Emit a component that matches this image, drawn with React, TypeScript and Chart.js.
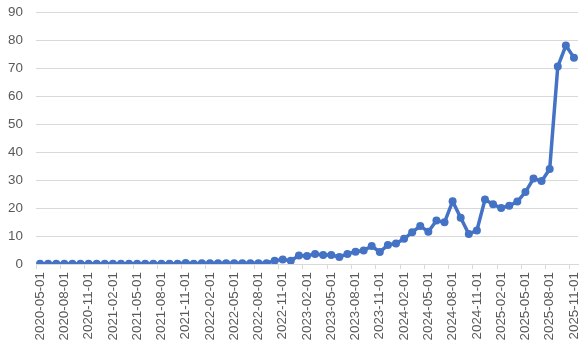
import React, { useEffect, useRef } from "react";
import { Chart, registerables } from "chart.js";

Chart.register(...registerables);

const categories: string[] = [
  "2020-05-01", "2020-06-01", "2020-07-01", "2020-08-01", "2020-09-01", "2020-10-01",
  "2020-11-01", "2020-12-01", "2021-01-01", "2021-02-01", "2021-03-01", "2021-04-01",
  "2021-05-01", "2021-06-01", "2021-07-01", "2021-08-01", "2021-09-01", "2021-10-01",
  "2021-11-01", "2021-12-01", "2022-01-01", "2022-02-01", "2022-03-01", "2022-04-01",
  "2022-05-01", "2022-06-01", "2022-07-01", "2022-08-01", "2022-09-01", "2022-10-01",
  "2022-11-01", "2022-12-01", "2023-01-01", "2023-02-01", "2023-03-01", "2023-04-01",
  "2023-05-01", "2023-06-01", "2023-07-01", "2023-08-01", "2023-09-01", "2023-10-01",
  "2023-11-01", "2023-12-01", "2024-01-01", "2024-02-01", "2024-03-01", "2024-04-01",
  "2024-05-01", "2024-06-01", "2024-07-01", "2024-08-01", "2024-09-01", "2024-10-01",
  "2024-11-01", "2024-12-01", "2025-01-01", "2025-02-01", "2025-03-01", "2025-04-01",
  "2025-05-01", "2025-06-01", "2025-07-01", "2025-08-01", "2025-09-01", "2025-10-01",
  "2025-11-01",
];

const values: number[] = [
  0.1, 0.1, 0.1, 0.1, 0.1, 0.1,
  0.1, 0.1, 0.1, 0.1, 0.1, 0.1,
  0.1, 0.1, 0.1, 0.1, 0.1, 0.1,
  0.4, 0.1, 0.3, 0.3, 0.3, 0.3,
  0.3, 0.3, 0.3, 0.3, 0.3, 1.2,
  1.6, 1.2, 3.0, 2.9, 3.6, 3.2,
  3.2, 2.5, 3.6, 4.4, 4.8, 6.4,
  4.3, 6.8, 7.3, 9.0, 11.3, 13.6,
  11.5, 15.5, 14.9, 22.4, 16.5, 10.7,
  12.0, 23.0, 21.3, 20.0, 20.8, 22.3,
  25.7, 30.5, 29.6, 33.9, 70.5, 78.0,
  73.7,
];

const yMin = 0;
const yMax = 90;
const yStep = 10;
const labelEvery = 3;

export default function App() {
  const ref = useRef<HTMLCanvasElement | null>(null);

  useEffect(() => {
    if (!ref.current) return;
    const font = { family: "'Liberation Sans', Arial, sans-serif", size: 13.4 };
    const chart = new Chart(ref.current, {
      type: "line",
      data: {
        labels: categories,
        datasets: [
          {
            data: values,
            borderColor: "#4472C4",
            backgroundColor: "#4472C4",
            borderWidth: 3.5,
            pointRadius: 4,
            pointBorderWidth: 0,
            pointBackgroundColor: "#4472C4",
            tension: 0,
          },
        ],
      },
      options: {
        animation: false,
        responsive: false,
        maintainAspectRatio: false,
        layout: { padding: { top: 12, left: 8, right: 9, bottom: 0 } },
        plugins: { legend: { display: false }, tooltip: { enabled: false } },
        scales: {
          x: {
            offset: true,
            afterFit: (s: any) => {
              s.height = 88;
              s.paddingLeft = 0;
              s.paddingRight = 0;
              s.paddingTop = 0;
              s.paddingBottom = 0;
            },
            grid: {
              offset: true,
              drawOnChartArea: false,
              drawTicks: true,
              tickLength: 5,
              color: (ctx: any) => (ctx.index % labelEvery === 0 ? "#d9d9d9" : "rgba(0,0,0,0)"),
            },
            border: { display: true, color: "#d9d9d9" },
            ticks: {
              autoSkip: false,
              minRotation: 90,
              maxRotation: 90,
              padding: 3,
              color: "#595959",
              font,
              callback: (_v: any, i: number) => (i % labelEvery === 0 ? categories[i] : ""),
            },
          },
          y: {
            min: yMin,
            max: yMax,
            afterFit: (s: any) => {
              s.width = 28;
              s.paddingTop = 0;
              s.paddingBottom = 0;
              s.paddingLeft = 0;
              s.paddingRight = 0;
            },
            grid: { color: "#d9d9d9", drawTicks: false },
            border: { display: false },
            ticks: { stepSize: yStep, padding: 13, color: "#595959", font },
          },
        },
      },
    });
    return () => chart.destroy();
  }, []);

  return (
    <div style={{ position: "fixed", left: 0, top: 0, width: 587, height: 352, background: "#fff" }}>
      <canvas ref={ref} width={587} height={352} style={{ width: 587, height: 352 }} />
    </div>
  );
}
